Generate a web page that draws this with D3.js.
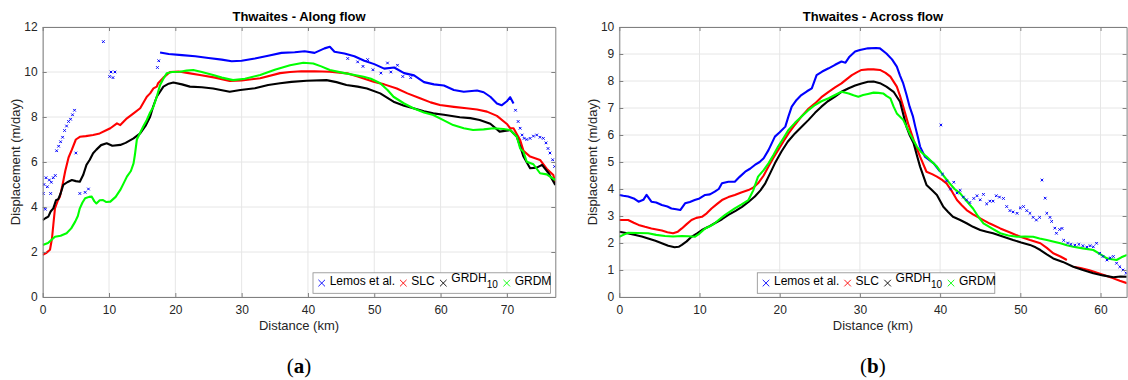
<!DOCTYPE html>
<html>
<head>
<meta charset="utf-8">
<script src="https://cdn.jsdelivr.net/npm/d3@7/dist/d3.min.js"></script>
<style>
  body { margin: 0; background: #fff; }
</style>
</head>
<body>
<div id="chart"></div>
<script>
// ---- data: [distance km, displacement m/day] ----

// (a) Thwaites - Along flow
var alongTicksX = [0, 10, 20, 30, 40, 50, 60, 70];
var alongTicksY = [0, 2, 4, 6, 8, 10, 12];

var alongLemos = [[17.7,10.87],[19,10.8],[21,10.75],[23,10.7],[25,10.62],[27,10.55],[28.5,10.48],[30,10.5],[32,10.6],[34,10.72],[36,10.85],[38,10.88],[39.5,10.92],[41,10.85],[42.5,11.05],[43.3,11.12],[44,10.9],[45.5,10.82],[47,10.7],[48.5,10.5],[50,10.35],[51.5,10.15],[53,10.2],[54.5,9.95],[56,9.85],[57.5,9.55],[59,9.45],[60.5,9.4],[62,9.2],[63.5,9.12],[65.5,9.18],[66.5,9.1],[67.5,8.9],[68.5,8.6],[69.2,8.52],[70,8.7],[70.5,8.88],[71,8.6]];
var alongLemosPts = [[0.1,4.6],[0.2,5.0],[0.4,3.9],[0.5,5.3],[0.7,4.9],[1.0,5.2],[1.2,4.6],[1.3,5.1],[1.6,5.3],[1.9,5.4],
  [2.1,6.5],[2.4,6.7],[2.7,6.9],[3.0,7.1],[3.3,7.4],[3.6,7.6],[3.9,7.8],[4.2,7.9],[4.5,8.1],[4.8,8.3],[5.0,6.4],
  [5.6,4.6],[6.4,4.65],[6.9,4.8],[9.15,11.35],[10.1,9.8],[10.3,10.0],[10.6,9.75],[10.9,10.0],[17.3,10.2],[17.5,10.5],
  [46,10.6],[47.5,10.45],[48.3,10.25],[49,10.55],[49.8,10.1],[51,9.95],[52,10.4],[52.5,10.0],[53.5,10.3],[54.3,9.8],[55.5,9.75],
  [71.3,8.3],[71.7,7.8],[72.0,7.5],[72.3,7.2],[72.6,7.05],[73.0,7.0],[73.5,7.05],[74.0,7.15],[74.5,7.2],[75.0,7.1],[75.5,7.05],[75.9,6.85],[76.2,6.6],[76.5,6.4],[76.9,6.1],[77.2,5.8]];
var alongSlc = [[0,1.87],[0.5,1.95],[1.1,2.1],[1.4,2.6],[1.6,3.2],[1.85,3.94],[2.3,4.3],[2.6,4.46],[3.0,5.0],[3.4,5.6],[3.9,6.2],[4.4,6.55],[5.0,7.0],[5.6,7.12],[6.5,7.15],[7.6,7.2],[8.6,7.27],[9.65,7.42],[10.2,7.5],[11.2,7.72],[11.7,7.64],[12.7,7.94],[13.7,8.16],[14.7,8.39],[15.7,8.9],[16.2,9.05],[16.7,9.27],[17.2,9.35],[17.4,9.5],[18.2,9.75],[19.2,10.0],[20.5,10.02],[22,9.95],[23.7,9.87],[26,9.75],[28.2,9.6],[30,9.62],[32.8,9.72],[35.8,9.95],[37.3,10.0],[39,10.03],[41,10.03],[43.3,10.01],[45.9,9.94],[47.5,9.8],[49.9,9.57],[51.5,9.45],[53.4,9.27],[55,9.05],[56.9,8.83],[58.5,8.65],[59.9,8.53],[62,8.45],[63.9,8.39],[65.5,8.33],[67,8.24],[68.5,8.05],[70,7.69],[70.5,7.5],[71,7.5],[72,6.98],[72.5,6.5],[73.5,6.24],[75,6.09],[76,5.7],[77,5.42],[77.3,5.05]];
var alongGrdh = [[0,3.42],[0.4,3.5],[0.85,3.57],[1.2,3.8],[1.6,3.94],[2.0,4.3],[2.35,4.35],[2.7,4.6],[3.1,4.98],[3.7,5.1],[4.4,5.2],[5.0,5.15],[5.6,5.12],[6.1,5.42],[6.6,5.87],[7.1,6.1],[7.6,6.39],[8.1,6.55],[8.8,6.75],[9.65,6.83],[10.5,6.72],[11.7,6.76],[12.5,6.85],[13.7,7.05],[14.7,7.27],[15.5,7.6],[16.2,8.01],[16.7,8.5],[17.2,8.9],[18.2,9.35],[19.0,9.48],[19.7,9.53],[21,9.45],[22.2,9.35],[24,9.32],[25.7,9.27],[28.2,9.12],[29.8,9.2],[32,9.28],[34,9.42],[35.8,9.5],[37.5,9.56],[39.8,9.61],[42.8,9.64],[44.3,9.55],[45.8,9.42],[47.5,9.35],[48.9,9.27],[50.9,9.05],[52.9,8.68],[54.5,8.5],[55.9,8.39],[57.5,8.25],[58.9,8.16],[60.5,8.1],[62.9,7.99],[64.5,7.95],[65.9,7.87],[67.5,7.7],[68.9,7.35],[70.5,7.42],[71.5,7.12],[72,6.7],[72.5,6.24],[73.5,5.72],[74.5,5.75],[75.3,5.87],[76.3,5.5],[77.3,4.98]];
var alongGrdm = [[0,2.31],[0.8,2.4],[1.85,2.68],[2.7,2.72],[3.6,2.83],[4.3,3.05],[4.9,3.35],[5.3,3.6],[5.6,3.94],[6.0,4.2],[6.4,4.39],[7.0,4.45],[7.4,4.46],[7.8,4.25],[8.1,4.16],[8.6,4.3],[9.1,4.31],[9.6,4.22],[10.2,4.24],[11.0,4.45],[11.7,4.76],[12.2,5.05],[12.7,5.35],[13.3,5.6],[13.7,5.94],[13.9,6.31],[14.2,7.0],[14.7,7.3],[15.2,7.6],[15.7,7.87],[16.2,8.2],[16.7,8.46],[17.2,8.9],[17.7,9.42],[18.2,9.7],[18.7,9.94],[19.5,10.0],[20.7,10.01],[21.7,10.06],[22.7,10.09],[24,10.0],[25.7,9.87],[27,9.75],[28.7,9.64],[30.5,9.7],[32.8,9.87],[35,10.1],[37.3,10.3],[39.3,10.41],[40.8,10.38],[42,10.25],[43.3,10.09],[45.5,9.95],[48.4,9.79],[49.5,9.7],[50.9,9.5],[52,9.2],[52.9,8.9],[54.5,8.6],[55.9,8.39],[57.5,8.2],[58.9,8.09],[60.5,7.85],[61.9,7.64],[63.5,7.5],[64.9,7.42],[66.5,7.45],[68,7.5],[69.5,7.47],[70.5,7.42],[71.5,7.12],[72,6.6],[72.5,6.45],[73,6.01],[74,5.9],[75,5.5],[76,5.45],[77.3,5.2]];

// (b) Thwaites - Across flow
var acrossTicksX = [0, 10, 20, 30, 40, 50, 60];
var acrossTicksY = [0, 1, 2, 3, 4, 5, 6, 7, 8, 9, 10];

var acrossLemos = [[0,3.78],[0.5,3.75],[1.1,3.72],[1.8,3.65],[2.4,3.53],[3.0,3.6],[3.4,3.78],[4.0,3.53],[4.6,3.5],[5.3,3.41],[6.0,3.35],[6.5,3.28],[7.1,3.25],[7.6,3.22],[8.2,3.47],[8.8,3.52],[9.4,3.59],[10.0,3.65],[10.7,3.78],[11.3,3.8],[11.9,3.9],[12.4,4.0],[12.8,4.21],[13.6,4.27],[14.4,4.27],[15.0,4.45],[15.7,4.64],[16.3,4.75],[16.9,4.89],[17.5,5.0],[18.0,5.14],[18.6,5.44],[19.4,5.94],[20.0,6.1],[20.7,6.31],[21.1,6.7],[21.5,7.05],[22.1,7.3],[22.7,7.48],[23.4,7.62],[24.0,7.73],[24.6,8.22],[25.3,8.35],[26.1,8.47],[26.9,8.6],[27.7,8.72],[28.2,8.68],[28.7,8.9],[29.4,9.09],[30.0,9.15],[31.0,9.21],[32.0,9.22],[32.5,9.21],[33.3,9.02],[34.0,8.8],[34.6,8.53],[35.0,8.2],[35.4,7.91],[35.8,7.5],[36.2,7.05],[36.6,6.7],[36.9,6.31],[37.2,5.95],[37.5,5.57],[38.1,5.2],[39.2,4.95],[40,4.64]];
var acrossLemosPts = [[40.1,6.37],[40.3,4.55],[40.8,4.3],[41.3,4.0],[41.7,4.25],[42.1,3.85],[42.5,3.95],[42.9,3.7],[43.3,3.6],[43.7,3.5],[44.2,3.65],[44.6,3.75],[45.0,3.6],[45.4,3.8],[45.8,3.45],[46.2,3.55],[46.6,3.55],[47.0,3.75],[47.4,3.7],[47.9,3.65],[48.3,3.35],[48.7,3.2],[49.1,3.15],[49.6,3.1],[50.0,3.3],[50.4,3.35],[50.8,3.2],[51.2,3.1],[51.6,2.95],[52.0,2.85],[52.4,2.95],[52.7,4.33],[53.1,3.66],[53.3,3.1],[53.7,2.95],[53.9,2.8],[54.3,2.55],[54.5,2.36],[54.9,2.5],[55.2,2.54],[55.4,2.1],[55.9,2.0],[56.3,1.95],[56.8,1.92],[57.3,1.95],[57.8,1.9],[58.3,1.85],[58.7,1.9],[59.1,1.86],[59.5,1.99],[59.9,1.62],[60.3,1.5],[60.8,1.37],[61.2,1.45],[61.6,1.5],[62.0,1.25],[62.4,1.12],[62.8,1.0],[63.2,0.88]];
var acrossSlc = [[0,2.85],[1.1,2.85],[1.8,2.75],[2.4,2.67],[3.2,2.6],[4.0,2.54],[5.3,2.46],[6.0,2.4],[6.7,2.36],[7.3,2.42],[7.8,2.54],[8.4,2.7],[9.0,2.85],[9.6,2.93],[10.3,2.97],[10.9,3.1],[11.5,3.28],[12.2,3.45],[12.8,3.59],[13.6,3.7],[14.4,3.78],[15.2,3.87],[16.1,3.96],[16.7,4.05],[17.3,4.21],[18.0,4.5],[18.6,4.83],[19.2,5.15],[19.8,5.44],[20.5,5.78],[21.1,6.06],[21.9,6.38],[22.7,6.68],[23.5,6.95],[24.4,7.17],[25.2,7.4],[26.1,7.6],[26.9,7.76],[27.7,7.91],[28.4,8.08],[29.0,8.22],[29.6,8.32],[30.2,8.41],[31.0,8.43],[31.7,8.43],[32.5,8.41],[33.2,8.3],[33.8,8.16],[34.6,7.79],[35.0,7.45],[35.4,7.05],[36.0,6.43],[36.7,5.81],[37.1,5.5],[37.5,5.2],[38.3,4.64],[39.0,4.55],[39.6,4.46],[40.2,4.35],[40.8,4.21],[41.5,3.9],[42.1,3.59],[42.7,3.4],[43.3,3.22],[44.1,3.06],[45,2.91],[46.2,2.72],[47.5,2.54],[48.8,2.38],[50,2.23],[51.2,2.11],[52.5,1.99],[53.3,1.82],[54.1,1.62],[55.0,1.5],[55.8,1.37],[56.2,null],[56.6,1.12],[57.5,1.07],[58.5,1.0],[59.1,0.94],[60.3,0.82],[61.6,0.69],[62.4,0.6],[63.3,0.51]];
var acrossGrdh = [[0,2.42],[1.0,2.36],[2.0,2.3],[2.8,2.24],[3.6,2.17],[4.5,2.08],[5.3,1.99],[6.1,1.9],[6.9,1.84],[7.4,1.86],[7.8,1.93],[8.4,2.06],[9.0,2.23],[9.7,2.36],[10.3,2.48],[11.1,2.6],[11.9,2.73],[12.8,2.88],[13.6,3.04],[14.5,3.19],[15.3,3.34],[16.1,3.52],[16.9,3.72],[17.6,3.95],[18.2,4.21],[18.8,4.58],[19.4,4.95],[20.2,5.38],[21.0,5.75],[21.9,6.06],[22.8,6.32],[23.6,6.56],[24.4,6.82],[25.2,7.05],[26.0,7.25],[26.9,7.42],[27.7,7.6],[28.6,7.73],[29.4,7.83],[30.2,7.91],[31.0,7.97],[31.7,7.98],[32.5,7.92],[33.3,7.79],[34.2,7.6],[35.0,7.23],[35.8,6.31],[36.2,6.0],[36.7,5.69],[37.1,5.25],[37.5,4.83],[38.3,4.15],[39.0,3.95],[39.6,3.78],[40.4,3.34],[41.0,3.15],[41.6,2.97],[42.5,2.85],[43.3,2.73],[44.1,2.6],[45,2.48],[45.8,2.42],[46.6,2.36],[47.8,2.24],[49.1,2.11],[50.1,2.02],[51.2,1.93],[51.9,1.84],[52.5,1.74],[53.3,1.58],[54.1,1.43],[55.3,1.3],[56.6,1.12],[57.8,1.0],[59.1,0.88],[60.3,0.8],[61.6,0.73],[62.5,0.76],[63.3,0.75]];
var acrossGrdm = [[0,2.23],[0.5,2.3],[1.1,2.38],[2.3,2.37],[3.6,2.36],[4.6,2.3],[5.7,2.26],[6.7,2.24],[7.8,2.26],[8.6,2.25],[9.4,2.23],[10.0,2.35],[10.7,2.54],[11.3,2.62],[11.9,2.73],[12.5,2.88],[13.2,3.04],[13.8,3.16],[14.4,3.28],[15.2,3.42],[16.1,3.59],[16.7,3.95],[17.3,4.46],[18.0,4.7],[18.6,4.95],[19.2,5.25],[19.8,5.57],[20.5,5.9],[21.1,6.19],[21.9,6.45],[22.7,6.68],[23.5,6.9],[24.4,7.11],[25.2,7.25],[26.1,7.36],[26.9,7.48],[27.7,7.6],[28.6,7.54],[29.2,7.47],[29.8,7.42],[30.4,7.48],[31.0,7.52],[31.7,7.57],[32.3,7.56],[32.9,7.54],[33.3,7.45],[33.8,7.36],[34.2,7.05],[34.6,6.8],[35.4,6.56],[36.2,6.06],[37.1,5.57],[37.7,5.35],[38.3,5.2],[39.0,5.0],[39.6,4.83],[40.4,4.5],[41.2,4.21],[41.8,4.0],[42.5,3.84],[43.3,3.55],[44.1,3.28],[44.7,3.0],[45.4,2.73],[46.4,2.55],[47.5,2.36],[48.5,2.28],[49.6,2.23],[50.6,2.24],[51.6,2.23],[52.4,2.17],[53.3,2.11],[54.2,2.05],[55,1.99],[55.8,1.92],[56.6,1.86],[57.8,1.8],[59.1,1.74],[59.9,1.6],[60.8,1.43],[61.4,1.4],[62.0,1.37],[62.6,1.47],[63.3,1.56]];

var legendNames = ["Lemos et al.", "SLC", "GRDH", "GRDM"];
var seriesColors = ["#0000ff", "#ff0000", "#000000", "#00ff00"];

// ---- drawing ----
var W = 1128, H = 380;
var sans = "'Liberation Sans', Arial, sans-serif";
var svg = d3.select("#chart").append("svg").attr("width", W).attr("height", H)
  .style("font-family", sans);

var crossPath = "M-1.3,-1.3L1.3,1.3M-1.3,1.3L1.3,-1.3";

function drawPanel(p) {
  var x = d3.scaleLinear().domain([0, p.xMax]).range([p.left, p.right]);
  var y = d3.scaleLinear().domain([0, p.yMax]).range([p.bottom, p.top]);
  var g = svg.append("g");

  // grid
  g.append("g").selectAll("line").data(p.ticksX).enter().append("line")
    .attr("x1", d => x(d)).attr("x2", d => x(d))
    .attr("y1", p.top).attr("y2", p.bottom)
    .attr("stroke", "#e6e6e6");
  g.append("g").selectAll("line").data(p.ticksY).enter().append("line")
    .attr("x1", p.left).attr("x2", p.right)
    .attr("y1", d => y(d)).attr("y2", d => y(d))
    .attr("stroke", "#e6e6e6");

  // data, clipped to the axes box
  var clipId = "clip" + p.id;
  svg.append("clipPath").attr("id", clipId).append("rect")
    .attr("x", p.left).attr("y", p.top)
    .attr("width", p.right - p.left).attr("height", p.bottom - p.top);
  var plot = g.append("g").attr("clip-path", "url(#" + clipId + ")");

  var line = d3.line()
    .defined(d => d[1] !== null)
    .x(d => x(d[0]))
    .y(d => y(d[1]));

  p.lines.forEach(function (s) {
    plot.append("path").datum(s.data)
      .attr("d", line)
      .attr("fill", "none")
      .attr("stroke", s.color)
      .attr("stroke-width", 2.1)
      .attr("stroke-linejoin", "round");
  });
  p.points.forEach(function (s) {
    plot.append("g").selectAll("path").data(s.data).enter().append("path")
      .attr("d", crossPath)
      .attr("transform", d => "translate(" + x(d[0]) + "," + y(d[1]) + ")")
      .attr("stroke", s.color)
      .attr("stroke-width", 1)
      .attr("fill", "none");
  });

  // axes: labelled bottom/left, bare top/right, ticks pointing in
  var axisColor = "#808080";
  var bottom = g.append("g").attr("transform", "translate(0," + p.bottom + ")")
    .call(d3.axisBottom(x).tickValues(p.ticksX).tickSizeInner(-4).tickSizeOuter(0).tickPadding(8.5));
  var left = g.append("g").attr("transform", "translate(" + p.left + ",0)")
    .call(d3.axisLeft(y).tickValues(p.ticksY).tickSizeInner(-4).tickSizeOuter(0).tickPadding(5));
  var top = g.append("g").attr("transform", "translate(0," + p.top + ")")
    .call(d3.axisTop(x).tickValues(p.ticksX).tickSizeInner(-4).tickSizeOuter(0).tickFormat(""));
  var right = g.append("g").attr("transform", "translate(" + p.right + ",0)")
    .call(d3.axisRight(y).tickValues(p.ticksY).tickSizeInner(-4).tickSizeOuter(0).tickFormat(""));
  [bottom, left, top, right].forEach(function (a) {
    a.attr("font-family", sans).attr("font-size", 12);
    a.selectAll("path, line").attr("stroke", axisColor);
    a.selectAll("text").attr("fill", "#262626");
  });

  var cx = (p.left + p.right) / 2;
  // title
  g.append("text").attr("x", cx).attr("y", 21)
    .attr("text-anchor", "middle").attr("font-size", 13).attr("font-weight", "bold")
    .attr("fill", "#000").text(p.title);
  // axis labels
  g.append("text").attr("x", cx).attr("y", 330).attr("fill", "#262626")
    .attr("text-anchor", "middle").attr("font-size", 13).text("Distance (km)");
  g.append("text").attr("fill", "#262626")
    .attr("transform", "translate(" + (p.left - 22.5) + "," + ((p.top + p.bottom) / 2) + ") rotate(-90)")
    .attr("text-anchor", "middle").attr("font-size", 13).text("Displacement (m/day)");

  // legend
  var lg = g.append("g").attr("transform", "translate(" + p.legendX + "," + p.legendY + ")");
  lg.append("rect").attr("width", 237.5).attr("height", 20.5)
    .attr("fill", "#fff").attr("stroke", "#8c8c8c").attr("stroke-width", 0.8);
  var itemX = [8.7, 90.3, 130.3, 193.7];
  legendNames.forEach(function (name, i) {
    lg.append("path")
      .attr("d", "M-3.3,-3.3L3.3,3.3M-3.3,3.3L3.3,-3.3")
      .attr("transform", "translate(" + itemX[i] + ",10.3)")
      .attr("stroke", seriesColors[i]).attr("stroke-width", 0.9).attr("fill", "none");
    var t = lg.append("text").attr("x", itemX[i] + 8).attr("y", 12.5).attr("font-size", 12).attr("fill", "#000");
    if (name === "GRDH") {
      t.append("tspan").attr("dy", -3.5).text("GRDH");
      t.append("tspan").attr("dy", 6).attr("font-size", 10).text("10");
    } else {
      t.text(name);
    }
  });

  // panel caption "(a)" / "(b)"
  var cap = g.append("text").attr("x", cx).attr("y", 373)
    .attr("text-anchor", "middle").attr("font-size", 21)
    .attr("font-family", "'Liberation Serif', 'Times New Roman', serif").attr("fill", "#000");
  cap.append("tspan").text("(");
  cap.append("tspan").attr("font-weight", "bold").text(p.caption);
  cap.append("tspan").text(")");
}

drawPanel({
  id: "a", title: "Thwaites - Along flow", caption: "a",
  left: 42.7, right: 555.3, top: 27, bottom: 297,
  xMax: 77.3, yMax: 12, ticksX: alongTicksX, ticksY: alongTicksY,
  legendX: 313, legendY: 272.8,
  lines: [
    { data: alongLemos, color: seriesColors[0] },
    { data: alongSlc, color: seriesColors[1] },
    { data: alongGrdh, color: seriesColors[2] },
    { data: alongGrdm, color: seriesColors[3] }
  ],
  points: [{ data: alongLemosPts, color: seriesColors[0] }]
});

drawPanel({
  id: "b", title: "Thwaites - Across flow", caption: "b",
  left: 619.3, right: 1126.6, top: 27, bottom: 297,
  xMax: 63.25, yMax: 10, ticksX: acrossTicksX, ticksY: acrossTicksY,
  legendX: 757.3, legendY: 272.8,
  lines: [
    { data: acrossLemos, color: seriesColors[0] },
    { data: acrossSlc, color: seriesColors[1] },
    { data: acrossGrdh, color: seriesColors[2] },
    { data: acrossGrdm, color: seriesColors[3] }
  ],
  points: [{ data: acrossLemosPts, color: seriesColors[0] }]
});
</script>
</body>
</html>
